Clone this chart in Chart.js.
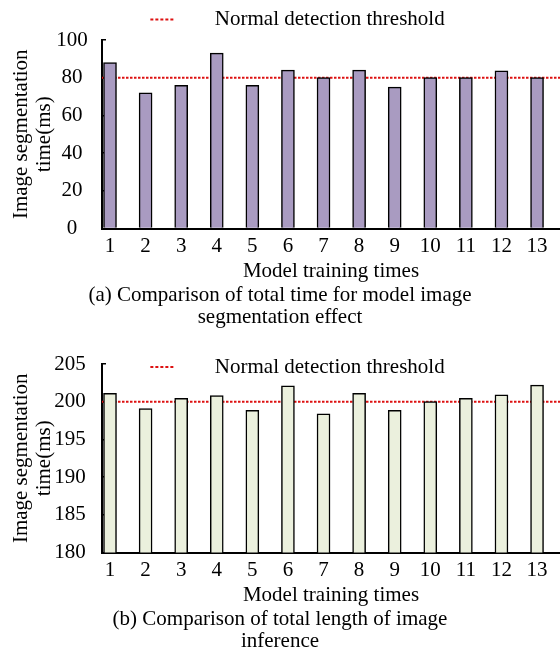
<!DOCTYPE html>
<html>
<head>
<meta charset="utf-8">
<script src="https://cdn.jsdelivr.net/npm/chart.js@4.4.1/dist/chart.umd.min.js"></script>
<style>
  html, body { margin: 0; padding: 0; background: #fff; }
  canvas { display: block; }
</style>
</head>
<body>
<canvas id="segChart" width="560" height="330"></canvas>
<canvas id="inferChart" width="560" height="325"></canvas>
<script>
// Chart values
const trainingRuns = [1, 2, 3, 4, 5, 6, 7, 8, 9, 10, 11, 12, 13];
const segmentationTimes = [88, 72, 76, 93, 76, 84, 80, 84, 75, 80, 80, 83.7, 80];
const inferenceTimes = [201.1, 199.1, 200.45, 200.8, 198.85, 202.1, 198.4, 201.1, 198.85, 200, 200.45, 200.9, 202.2];
const segmentationTicks = [0, 20, 40, 60, 80, 100];
const inferenceTicks = [180, 185, 190, 195, 200, 205];
const segmentationThreshold = 80;
const inferenceThreshold = 200;

const thresholdLabel = 'Normal detection threshold';
const xTitle = 'Model training times';
const yTitle = ['Image segmentation', 'time(ms)'];
const segmentationCaption = ['(a) Comparison of total time for model image', 'segmentation effect'];
const inferenceCaption = ['(b) Comparison of total length of image', 'inference'];

Chart.defaults.font.family = "'Liberation Serif', 'Times New Roman', serif";
Chart.defaults.font.size = 21;
Chart.defaults.color = '#000';

// x range leaves a little room left of the first bar and right of the last
const X_MIN = 0.775;
const X_MAX = 13.645;

// moves the legend down after layout, so it can sit over the top of the plot
const legendNudge = {
    id: 'legendNudge',
    afterLayout: function (chart, args, opts) {
        if (chart.legend && opts.shift) {
            chart.legend.top += opts.shift;
            chart.legend.bottom += opts.shift;
        }
    }
};

/**
 * Build one panel: bars + dotted threshold line
 */
let makePanel = function (canvasId, values, yTicks, threshold, caption, fill, look) {
    const ctx = document.getElementById(canvasId).getContext('2d');

    return new Chart(ctx, {
        type: 'bar',
        plugins: [legendNudge],
        data: {
            datasets: [{
                type: 'bar',
                label: 'time',
                data: trainingRuns.map((run, i) => ({ x: run, y: values[i] })),
                backgroundColor: fill,
                borderColor: '#000',
                borderWidth: 1.5,
                borderSkipped: 'start',
                barThickness: 13,
                order: 0
            }, {
                type: 'line',
                label: thresholdLabel,
                data: [{ x: X_MIN, y: threshold }, { x: X_MAX, y: threshold }],
                borderColor: '#dd1111',
                borderWidth: 2,
                borderDash: [2.5, 1.5],
                pointRadius: 0,
                order: 1
            }]
        },
        options: {
            responsive: false,
            animation: false,
            layout: {
                padding: look.padding
            },
            plugins: {
                legendNudge: { shift: look.legendShift },
                legend: {
                    position: 'top',
                    labels: {
                        usePointStyle: true,
                        pointStyleWidth: 89,
                        padding: 0,
                        color: '#000',
                        font: { size: 21 },
                        generateLabels: function (chart) {
                            // only the threshold goes in the legend; short dotted sample, wide gap before text
                            return Chart.defaults.plugins.legend.labels.generateLabels(chart)
                                .filter(item => item.datasetIndex === 1)
                                .map(item => Object.assign(item, {
                                    pointStyle: 'line',
                                    lineDash: [0, 35, 3, 2, 3, 2, 3, 2, 3, 2, 3, 300]
                                }));
                        }
                    }
                },
                title: {
                    display: true,
                    position: 'bottom',
                    text: caption,
                    color: '#000',
                    font: { size: 21, weight: 'normal', lineHeight: 1.05 },
                    padding: 0
                },
                tooltip: { enabled: false }
            },
            scales: {
                x: {
                    type: 'linear',
                    offset: false,
                    min: X_MIN,
                    max: X_MAX,
                    afterBuildTicks: function (scale) {
                        scale.ticks = trainingRuns.map(v => ({ value: v }));
                    },
                    afterFit: function (scale) {
                        scale.height = 56;
                    },
                    ticks: {
                        padding: 5.6,
                        color: '#000',
                        font: { size: 21 }
                    },
                    grid: { display: false, drawTicks: false, offset: false },
                    border: { color: '#000', width: 2 },
                    title: {
                        display: true,
                        text: xTitle,
                        color: '#000',
                        font: { size: 21 },
                        padding: 0
                    }
                },
                y: {
                    min: yTicks[0],
                    max: yTicks[yTicks.length - 1],
                    afterBuildTicks: function (scale) {
                        scale.ticks = yTicks.map(v => ({ value: v }));
                    },
                    afterFit: function (scale) {
                        scale.width = 102;
                        scale.paddingTop = look.plotTop;
                    },
                    ticks: {
                        crossAlign: 'center',
                        padding: look.yTickPadding,
                        color: '#000',
                        font: { size: 21 }
                    },
                    grid: {
                        display: true,
                        drawOnChartArea: false,
                        drawTicks: true,
                        tickLength: -4,
                        color: '#000',
                        lineWidth: 1.5
                    },
                    border: { color: '#000', width: 2 },
                    title: {
                        display: true,
                        text: yTitle,
                        color: '#000',
                        font: { size: 21, lineHeight: 1.1 },
                        padding: { top: 9.45, bottom: 0 }
                    }
                }
            }
        }
    });
};

makePanel('segChart', segmentationTimes, segmentationTicks, segmentationThreshold,
    segmentationCaption, '#a99bc1',
    { padding: { top: 6.2, bottom: 1.4, left: 0, right: 0 }, legendShift: 0, plotTop: 40, yTickPadding: 18.25 });

makePanel('inferChart', inferenceTimes, inferenceTicks, inferenceThreshold,
    inferenceCaption, '#ebf0dd',
    { padding: { top: 0, bottom: 2.4, left: 0, right: 0 }, legendShift: 23.5, plotTop: 34, yTickPadding: 20.25 });
</script>
</body>
</html>
